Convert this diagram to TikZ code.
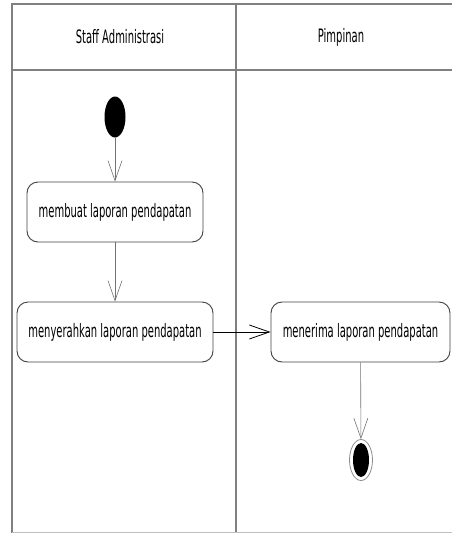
\documentclass[tikz,border=0pt]{standalone}
\usepackage{fontspec}
\newfontfamily\lanefont[FakeStretch=0.54]{DejaVu Sans}
\usetikzlibrary{arrows.meta,shapes.geometric}
\begin{document}
\begin{tikzpicture}[x=1pt,y=-1pt,
  lane/.style={draw=black!50, line width=1.1pt},
  action/.style={draw=black!75, line width=0.9pt, rounded corners=11pt,
    minimum height=60pt, inner sep=0pt, font=\lanefont\fontsize{18.5}{20}\selectfont},
  flow/.style={draw=black!55, line width=0.6pt,
    -{Straight Barb[length=20pt,width=14pt,line width=0.6pt]}},
  flowdark/.style={draw=black, line width=0.8pt,
    -{Straight Barb[length=20pt,width=14pt,line width=0.8pt]}},
  title/.style={font=\lanefont\fontsize{18.5}{20}\selectfont}]
\useasboundingbox (0,0) rectangle (452,533);
% swimlane frame
\draw[lane] (452,4) -- (12,4) -- (12,533);
\draw[lane] (12,70) -- (452,70);
\draw[lane] (236,4) -- (236,533);
\draw[draw=black!25, line width=0.8pt] (12,532) -- (452,532);
\node[title] (laneA) at (120,37) {Staff Administrasi};
\node[title] (laneB) at (341,37) {Pimpinan};
% start node
\node[ellipse, fill=black, minimum width=21pt, minimum height=41pt, inner sep=0pt] (start) at (115,117) {};
% actions
\node[action, minimum width=176pt] (buat) at (115,212) {membuat laporan pendapatan};
\node[action, minimum width=196pt] (serah) at (115,332) {menyerahkan laporan pendapatan};
\node[action, minimum width=179pt] (terima) at (360.5,332) {menerima laporan pendapatan};
% final node
\node[ellipse, draw=black!45, line width=0.8pt, minimum width=23pt, minimum height=41pt, inner sep=0pt] (final) at (361,460) {};
\node[ellipse, fill=black, minimum width=16pt, minimum height=34pt, inner sep=0pt] (finalin) at (361,460) {};
% transitions
\draw[flow] (start) -- (buat);
\draw[flow] (buat) -- (serah);
\draw[flowdark] (serah) -- (terima);
\draw[flow] (terima) -- (final);
\end{tikzpicture}
\end{document}
